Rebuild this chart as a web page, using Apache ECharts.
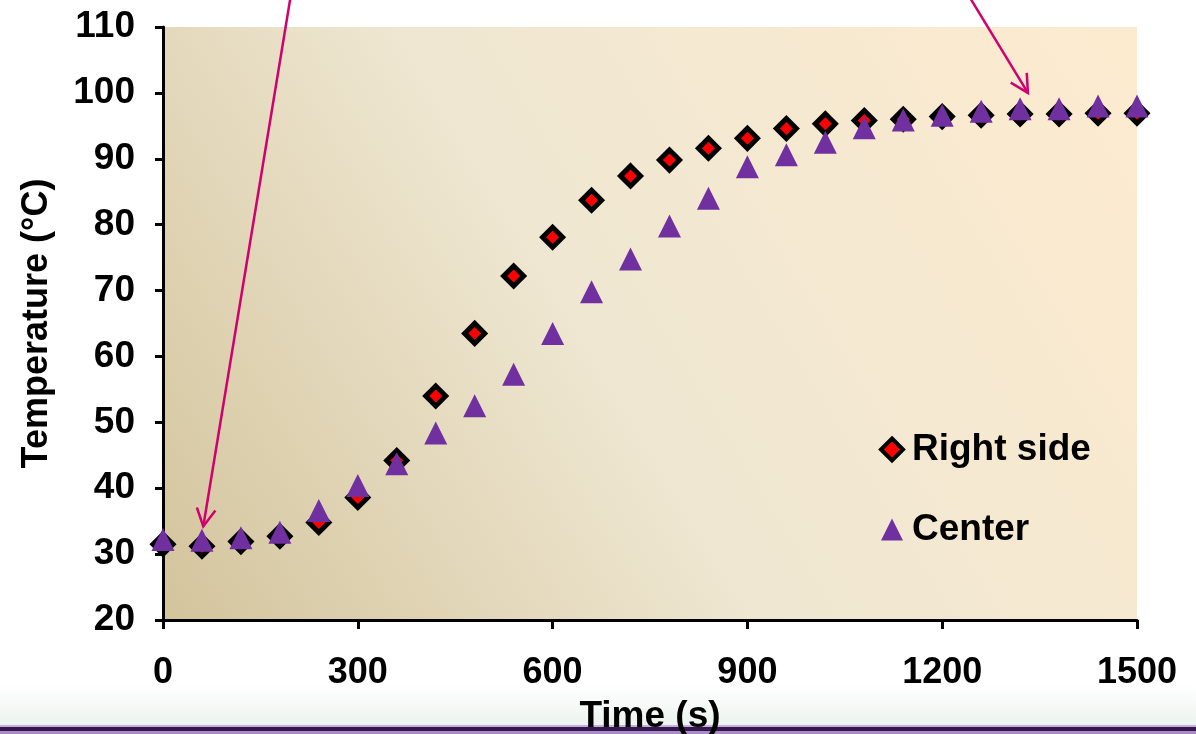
<!DOCTYPE html>
<html>
<head>
<meta charset="utf-8">
<script src="https://cdn.jsdelivr.net/npm/echarts@6/dist/echarts.min.js"></script>
<style>
html,body{margin:0;padding:0;background:#fff;}
#c{width:1196px;height:734px;}
</style>
</head>
<body>
<div id="c"></div>
<script>
const times = [0,60,120,180,240,300,360,420,480,540,600,660,720,780,840,900,960,1020,1080,1140,1200,1260,1320,1380,1440,1500];
const rightSide = [31.5,31.2,31.9,32.7,34.8,38.6,44.2,54.0,63.5,72.2,78.1,83.7,87.4,89.8,91.6,93.1,94.6,95.3,95.8,96.0,96.4,96.6,96.8,96.8,96.9,96.9];
const center = [32.2,32.1,32.5,33.3,36.6,40.4,43.7,48.4,52.5,57.3,63.5,69.8,74.8,79.8,84.0,88.8,90.6,92.5,94.7,95.9,96.6,97.2,97.6,97.6,98.0,98.0];
const xTicks = [0,300,600,900,1200,1500];
const yTicks = [20,30,40,50,60,70,80,90,100,110];
const seriesNames = ['Right side','Center'];
const arrows = [
  {from:[197,114.9], to:[62,34.2]},
  {from:[1243,114.4], to:[1332,100.0]}
];

const FONT = '"Liberation Sans", Arial, sans-serif';
const chart = echarts.init(document.getElementById('c'), null, {renderer:'canvas'});

const option = {
  animation:false,
  backgroundColor:'#ffffff',
  grid:{
    left:163, right:59, top:27, bottom:114,
    outerBoundsMode:'none', containLabel:false,
    show:true, borderWidth:0,
    backgroundColor:{type:'linear',x:0,y:1,x2:1,y2:0,colorStops:[
      {offset:0,color:'#d3c49c'},
      {offset:0.45,color:'#efe7d2'},
      {offset:1,color:'#fdebcf'}
    ]}
  },
  xAxis:{
    type:'value', min:xTicks[0], max:xTicks[xTicks.length-1], interval:300,
    name:'Time (s)', nameLocation:'middle', nameGap:78,
    nameTextStyle:{fontFamily:FONT,fontWeight:'bold',fontSize:37,color:'#000'},
    axisLine:{show:true,onZero:false,lineStyle:{color:'#000',width:3}},
    axisTick:{show:true,inside:false,length:9,lineStyle:{color:'#000',width:3}},
    axisLabel:{fontFamily:FONT,fontWeight:'bold',fontSize:36,color:'#000',margin:35,
      formatter:v=>xTicks.includes(v)?String(v):''},
    splitLine:{show:false}
  },
  yAxis:{
    type:'value', min:yTicks[0], max:yTicks[yTicks.length-1], interval:10,
    name:'Temperature (°C)', nameLocation:'middle', nameGap:108, nameRotate:90,
    nameTextStyle:{fontFamily:FONT,fontWeight:'bold',fontSize:36,color:'#000'},
    axisLine:{show:true,onZero:false,lineStyle:{color:'#000',width:3}},
    axisTick:{show:true,inside:false,length:8,lineStyle:{color:'#000',width:3}},
    axisLabel:{fontFamily:FONT,fontWeight:'bold',fontSize:37,color:'#000',margin:28,
      formatter:v=>yTicks.includes(v)?String(v):''},
    splitLine:{show:false}
  },
  legend:{
    orient:'vertical', left:874, top:426, itemGap:43,
    itemWidth:22, itemHeight:22,
    textStyle:{fontFamily:FONT,fontWeight:'bold',fontSize:37,color:'#000',padding:[0,0,0,4]},
    data:[
      {name:seriesNames[0], icon:'diamond', itemStyle:{color:'#ff0000',borderColor:'#000',borderWidth:4}},
      {name:seriesNames[1], icon:'triangle', itemStyle:{color:'#7030a0',borderWidth:0}}
    ]
  },
  series:[
    {
      name:seriesNames[0], type:'scatter', symbol:'diamond', symbolSize:20,
      itemStyle:{color:'#ff0000',borderColor:'#000000',borderWidth:5,opacity:1},
      data:times.map((t,i)=>[t,rightSide[i]]), z:2
    },
    {
      name:seriesNames[1], type:'scatter', symbol:'triangle', symbolSize:23,
      itemStyle:{color:'#7030a0',opacity:1},
      data:times.map((t,i)=>[t,center[i]]), z:3
    }
  ]
};
chart.setOption(option);

// annotation arrows + decorative bottom band
const graphics = [
  {type:'rect', shape:{x:0,y:684,width:1196,height:42}, silent:true, z:-1,
    style:{fill:{type:'linear',x:0,y:0,x2:0,y2:1,colorStops:[{offset:0,color:'#ffffff'},{offset:1,color:'#ebf4ef'}]}}},
  {type:'rect', shape:{x:0,y:725,width:1196,height:2}, silent:true, style:{fill:'#c5b0da'}},
  {type:'rect', shape:{x:0,y:727,width:1196,height:4}, silent:true, style:{fill:'#351850'}},
  {type:'rect', shape:{x:0,y:731,width:1196,height:3}, silent:true, style:{fill:'#a88cc4'}}
];
const ARROW = '#d0006f';
arrows.forEach(a=>{
  const p0 = chart.convertToPixel({gridIndex:0}, a.from);
  const p1 = chart.convertToPixel({gridIndex:0}, a.to);
  const dx = p0[0]-p1[0], dy = p0[1]-p1[1];
  const len = Math.hypot(dx,dy);
  const ux = dx/len, uy = dy/len;
  const L = 20, ang = 28*Math.PI/180;
  const rot = (c,s)=>[p1[0]+L*(ux*c - uy*s), p1[1]+L*(ux*s + uy*c)];
  const h1 = rot(Math.cos(ang),Math.sin(ang));
  const h2 = rot(Math.cos(-ang),Math.sin(-ang));
  graphics.push({type:'line', silent:true, z:100, shape:{x1:p0[0],y1:p0[1],x2:p1[0],y2:p1[1]}, style:{stroke:ARROW,lineWidth:2.5}});
  graphics.push({type:'polyline', silent:true, z:100, shape:{points:[h1,p1,h2]}, style:{stroke:ARROW,lineWidth:2.5,fill:null}});
});
chart.setOption({graphic:graphics});
</script>
</body>
</html>
